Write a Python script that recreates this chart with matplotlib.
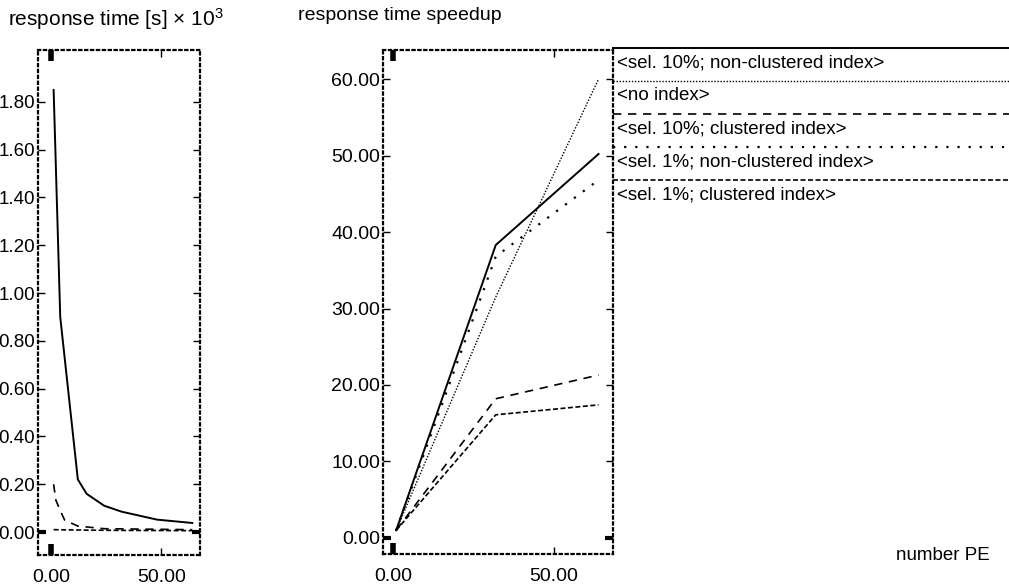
import matplotlib
matplotlib.use("Agg")
import matplotlib.pyplot as plt
from matplotlib.ticker import FixedLocator, FormatStrFormatter

plt.rcParams['font.family'] = ['Liberation Sans', 'DejaVu Sans']
plt.rcParams['mathtext.fontset'] = 'custom'
plt.rcParams['mathtext.rm'] = 'Liberation Sans'
plt.rcParams['mathtext.it'] = 'Liberation Sans'

# ---------------- data ----------------
# left panel: response time [s] x 10^3 vs number of PE
pe_left = [1, 4, 12, 16, 24, 32, 48, 64]
resp_solid = [1.85, 0.90, 0.22, 0.16, 0.11, 0.085, 0.052, 0.038]
pe_left_dash = [1, 2, 4, 6, 12, 24, 64]
resp_dashed = [0.20, 0.134, 0.09, 0.05, 0.025, 0.014, 0.010]
pe_left_dot = [1, 16, 32, 64]
resp_dotted = [0.010, 0.008, 0.007, 0.006]

# right panel: response time speedup vs number of PE
pe_right = [1, 32, 64]
series_names = ["<sel. 10%; non-clustered index>",
                "<no index>",
                "<sel. 10%; clustered index>",
                "<sel. 1%; non-clustered index>",
                "<sel. 1%; clustered index>"]
speedup_sel10_nc = [1, 38.3, 50.2]
speedup_noindex = [1, 31.5, 60.0]
speedup_sel10_c = [1, 18.2, 21.3]
speedup_sel1_nc = [1, 36.8, 46.8]
speedup_sel1_c = [1, 16.1, 17.4]

left_yticks = [0.0, 0.2, 0.4, 0.6, 0.8, 1.0, 1.2, 1.4, 1.6, 1.8]
right_yticks = [0, 10, 20, 30, 40, 50, 60]
xticks = [0, 50]

# ---------------- styles ----------------
styles = [dict(ls='-', lw=1.4),
          dict(ls=(0, (1, 1.2)), lw=1.0),
          dict(ls=(0, (5, 4)), lw=1.2),
          dict(ls=(0, (1, 4)), lw=1.6),
          dict(ls=(0, (3, 1.5)), lw=1.2)]

W, H = 1009, 587
fig = plt.figure(figsize=(W / 100, H / 100), dpi=100)

def px_axes(x0, x1, y0, y1):
    return fig.add_axes([x0 / W, 1 - y1 / H, (x1 - x0) / W, (y1 - y0) / H])

def style_axes(ax, yticks, fmt, ysize):
    for sp in ax.spines.values():
        sp.set_linestyle(':')
        sp.set_linewidth(1.6)
    ax.set_xticks(xticks)
    ax.set_yticks(yticks)
    ax.xaxis.set_major_formatter(FormatStrFormatter('%.2f'))
    ax.yaxis.set_major_formatter(FormatStrFormatter(fmt))
    ax.tick_params(which='major', direction='in', length=5, width=1.0,
                   top=True, right=True, labelsize=14, pad=2.0)
    ax.tick_params(axis='y', which='major', labelsize=ysize)
    ax.tick_params(axis='x', which='major', pad=10)
    ax.xaxis.remove_overlapping_locs = False
    ax.yaxis.remove_overlapping_locs = False
    ax.xaxis.set_minor_locator(FixedLocator([0]))
    ax.yaxis.set_minor_locator(FixedLocator([0]))
    ax.tick_params(which='minor', direction='in', length=8, width=4,
                   top=True, right=True)
    ax.tick_params(axis='y', which='minor', length=6, width=3)

# left axes
axL = px_axes(38, 200, 50, 555)
axL.plot(pe_left, resp_solid, color='black', **styles[0])
axL.plot(pe_left_dash, resp_dashed, color='black', **styles[2])
axL.plot(pe_left_dot, resp_dotted, color='black', **styles[4])
axL.set_xlim(-6.1, 67.5)
axL.set_ylim(-0.096, 2.017)
style_axes(axL, left_yticks, '%.2f', 13.5)

# right axes
axR = px_axes(383, 613, 50, 554)
all_speedups = [speedup_sel10_nc, speedup_noindex, speedup_sel10_c,
                speedup_sel1_nc, speedup_sel1_c]
for vals, st in zip(all_speedups, styles):
    axR.plot(pe_right, vals, color='black', **st)
axR.set_xlim(-3.1, 68.5)
axR.set_ylim(-2.1, 63.8)
style_axes(axR, right_yticks, '%.2f', 14)

# legend area
axLeg = px_axes(613, W, 40, 210)
axLeg.set_xlim(0, W - 613)
axLeg.set_ylim(210, 40)
axLeg.axis('off')
for i, (name, st) in enumerate(zip(series_names, styles)):
    yl = 48 + 33 * i
    axLeg.plot([0, W - 613], [yl, yl], color='black', clip_on=False, **st)
    axLeg.text(4, yl + 15, name, fontsize=13.5, va='center', ha='left')

# titles / labels
fig.text(8 / W, 1 - 19 / H, "response time [s] × 10$^{3}$", fontsize=15,
         va='center', ha='left')
fig.text(298 / W, 1 - 15 / H, "response time speedup", fontsize=14,
         va='center', ha='left')
fig.text(990 / W, 1 - 556 / H, "number PE", fontsize=13.5,
         va='center', ha='right')

fig.savefig("out.png", dpi=100, facecolor='white')
